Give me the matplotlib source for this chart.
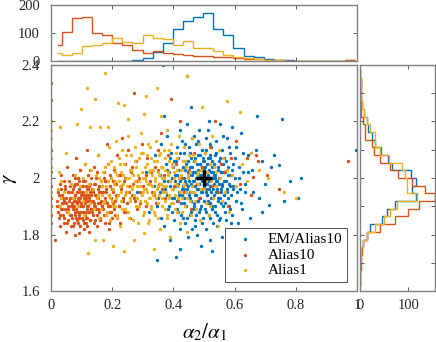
import numpy as np
import matplotlib
matplotlib.use('Agg')
from matplotlib import pyplot as plt

plt.rcParams['font.family'] = 'Liberation Serif'
plt.rcParams['mathtext.fontset'] = 'stix'

# Цвета как в MATLAB
c_em = '#0072BD'
c_a10 = '#D95319'
c_a1 = '#EDB120'
grey = '#808080'

labels = ['EM/Alias10', 'Alias10', 'Alias1']

# Точки (alpha2/alpha1, gamma) (выборка)
em_xy = [
    0.28, 1.95, 0.31, 2.02, 0.32, 1.88,
    0.335, 1.97, 0.34, 2.08, 0.345, 1.71, 0.35, 1.93, 0.355, 2.01, 0.36, 1.86, 0.36, 2.12,
    0.37, 1.99, 0.37, 1.83, 0.375, 2.05, 0.38, 1.94, 0.38, 2.15, 0.385, 1.90, 0.385, 2.02,
    0.39, 1.78, 0.39, 1.97, 0.392, 2.09, 0.395, 1.88, 0.396, 2.00, 0.368, 2.22,
    0.40, 1.96, 0.40, 2.04, 0.402, 1.85, 0.405, 1.99, 0.407, 1.72, 0.41, 2.11, 0.41, 1.92,
    0.412, 2.01, 0.415, 1.88, 0.415, 2.07, 0.418, 1.95, 0.42, 2.17, 0.42, 1.82, 0.422, 1.99,
    0.423, 1.75, 0.425, 2.03, 0.426, 1.91, 0.428, 2.13, 0.43, 1.97, 0.43, 1.86, 0.403, 2.06,
    0.417, 2.00, 0.428, 1.94,
    0.433, 2.00, 0.435, 1.93, 0.436, 2.09, 0.438, 1.84, 0.44, 1.98, 0.44, 2.05, 0.442, 1.90,
    0.444, 2.19, 0.445, 1.96, 0.447, 2.02, 0.448, 1.79, 0.45, 1.94, 0.45, 2.11, 0.452, 1.99,
    0.453, 1.87, 0.455, 2.04, 0.456, 2.25, 0.457, 1.92, 0.458, 2.07, 0.46, 1.97, 0.46, 1.82,
    0.461, 2.01, 0.462, 2.14, 0.463, 1.89, 0.434, 1.96, 0.446, 2.00, 0.454, 1.95, 0.439, 2.03,
    0.465, 1.99, 0.466, 2.06, 0.468, 1.91, 0.47, 2.02, 0.47, 1.85, 0.472, 1.97, 0.473, 2.12,
    0.475, 1.94, 0.476, 2.00, 0.478, 1.80, 0.479, 2.08, 0.48, 1.96, 0.481, 2.03, 0.483, 1.88,
    0.484, 2.17, 0.485, 1.98, 0.486, 1.93, 0.488, 2.05, 0.489, 1.76, 0.49, 2.01, 0.491, 1.90,
    0.492, 2.10, 0.493, 1.95, 0.494, 2.04, 0.495, 1.86, 0.496, 1.99, 0.467, 2.15, 0.477, 1.92,
    0.487, 2.00, 0.497, 2.07, 0.471, 1.83,
    0.50, 1.97, 0.50, 2.03, 0.502, 1.89, 0.503, 2.09, 0.505, 1.95, 0.506, 2.00, 0.507, 1.82,
    0.508, 2.14, 0.51, 1.98, 0.511, 2.05, 0.512, 1.92, 0.514, 2.01, 0.515, 1.87, 0.516, 2.20,
    0.517, 1.96, 0.518, 2.07, 0.52, 1.99, 0.521, 1.78, 0.522, 2.02, 0.523, 1.93, 0.524, 2.11,
    0.525, 1.90, 0.526, 2.04, 0.527, 1.97, 0.528, 1.84, 0.529, 2.00, 0.501, 2.06, 0.509, 1.94,
    0.513, 2.17, 0.519, 1.91, 0.504, 1.99, 0.52, 2.08, 0.527, 1.74, 0.53, 1.96,
    0.532, 2.01, 0.534, 1.94, 0.535, 2.08, 0.537, 1.88, 0.538, 1.99, 0.54, 2.13, 0.542, 1.96,
    0.543, 1.83, 0.545, 2.03, 0.547, 1.92, 0.548, 2.06, 0.55, 1.98, 0.552, 1.86, 0.553, 2.19,
    0.555, 1.95, 0.556, 2.02, 0.558, 1.79, 0.559, 2.10, 0.56, 1.97, 0.561, 1.90, 0.562, 2.05,
    0.536, 2.00, 0.551, 1.93,
    0.565, 1.99, 0.566, 2.07, 0.568, 1.91, 0.57, 2.02, 0.572, 1.85, 0.574, 1.96, 0.575, 2.14,
    0.577, 1.93, 0.579, 2.04, 0.58, 1.81, 0.582, 1.98, 0.584, 2.09, 0.585, 1.89, 0.587, 2.01,
    0.589, 1.94, 0.59, 2.18, 0.592, 1.87, 0.594, 2.05, 0.595, 1.97,
    0.60, 2.00, 0.603, 1.92, 0.606, 2.11, 0.61, 1.84, 0.613, 2.04, 0.617, 1.96, 0.62, 2.16,
    0.624, 1.89, 0.627, 2.02, 0.635, 1.95, 0.642, 2.08, 0.65, 1.86, 0.657, 2.03,
    0.674, 2.22, 0.68, 1.93, 0.69, 2.06, 0.711, 1.905, 0.72, 2.04, 0.744, 2.046, 0.78, 1.99,
    0.806, 1.93, 0.816, 2.00, 0.756, 2.21, 0.997, 2.10, 0.367, 2.40,
    # плотное ядро
    0.401, 1.93, 0.404, 2.01, 0.406, 1.97, 0.409, 2.06, 0.411, 1.89, 0.414, 1.98, 0.416, 2.03,
    0.419, 1.94, 0.421, 2.09, 0.424, 1.87, 0.427, 2.00, 0.429, 1.96,
    0.432, 2.04, 0.434, 1.91, 0.437, 1.99, 0.439, 2.12, 0.441, 1.95, 0.443, 1.86, 0.446, 2.06,
    0.448, 1.97, 0.451, 2.01, 0.453, 1.93, 0.455, 2.09, 0.457, 1.98, 0.459, 1.88, 0.461, 2.04,
    0.463, 1.95, 0.464, 2.02, 0.466, 1.90, 0.468, 1.99, 0.469, 2.07, 0.471, 1.94, 0.473, 2.00,
    0.474, 1.87, 0.476, 2.05, 0.478, 1.96, 0.479, 2.13, 0.481, 1.92, 0.482, 2.01, 0.484, 1.98,
    0.486, 2.08, 0.487, 1.89, 0.489, 1.95, 0.490, 2.03, 0.492, 1.99, 0.494, 1.84, 0.495, 2.06,
    0.497, 1.96, 0.498, 2.01, 0.500, 1.92, 0.502, 2.04, 0.503, 1.98, 0.505, 2.10, 0.506, 1.88,
    0.508, 1.96, 0.509, 2.02, 0.511, 1.94, 0.512, 2.07, 0.514, 1.99, 0.515, 1.91, 0.517, 2.03,
    0.518, 1.86, 0.520, 1.97, 0.521, 2.12, 0.523, 2.00, 0.524, 1.95, 0.526, 2.06, 0.527, 1.89,
    0.529, 2.02, 0.530, 1.93, 0.531, 1.98, 0.533, 2.05, 0.535, 1.90, 0.536, 2.01, 0.538, 1.95,
    0.540, 2.09, 0.541, 1.87, 0.543, 1.99, 0.545, 2.04, 0.547, 1.93, 0.548, 2.00, 0.550, 1.85,
    0.552, 2.07, 0.554, 1.96, 0.556, 2.02, 0.557, 1.91, 0.559, 1.98, 0.561, 2.15,
    0.564, 1.94, 0.566, 2.02, 0.568, 1.88, 0.571, 1.99, 0.573, 2.06, 0.576, 1.95, 0.578, 2.01,
    0.581, 1.90, 0.583, 2.11, 0.586, 1.97, 0.588, 1.84, 0.591, 2.03, 0.593, 1.96,
    0.372, 1.96, 0.378, 2.03, 0.383, 1.89, 0.388, 2.07, 0.394, 1.93, 0.381, 1.99, 0.356, 1.95,
    0.362, 2.04, 0.347, 1.90, 0.602, 2.07, 0.608, 1.95, 0.614, 2.00, 0.621, 1.91, 0.628, 2.09,
    0.633, 1.98, 0.645, 2.02, 0.66, 1.95, 0.67, 2.10, 0.70, 1.98, 0.73, 2.08, 0.76, 1.92,
    0.69, 1.88,
]

a10_xy = [
    0.0, 2.335, 0.0, 2.277, 0.0, 2.10, 0.0, 2.02, 0.0, 1.97, 0.0, 1.93, 0.0, 1.90, 0.0, 1.87, 0.0, 1.84,
    0.013, 1.78, 0.020, 1.92, 0.022, 1.88, 0.024, 1.95, 0.025, 1.86, 0.027, 1.90, 0.028, 1.98,
    0.030, 1.83, 0.031, 1.93, 0.033, 1.89, 0.034, 2.01, 0.035, 1.91,
    0.037, 1.94, 0.038, 1.87, 0.040, 1.91, 0.041, 1.99, 0.043, 1.84, 0.044, 1.92, 0.046, 1.89,
    0.047, 1.96, 0.049, 1.81, 0.050, 1.93, 0.052, 1.88, 0.053, 2.04, 0.055, 1.90, 0.056, 1.85,
    0.058, 1.95, 0.059, 1.92, 0.061, 1.87, 0.062, 1.97, 0.064, 1.90, 0.066, 1.83, 0.067, 1.93,
    0.069, 1.91, 0.070, 1.86, 0.071, 1.96, 0.072, 1.89, 0.073, 2.01, 0.074, 1.93, 0.075, 1.84,
    0.076, 1.90, 0.077, 1.98, 0.078, 1.87, 0.079, 1.94, 0.080, 1.80, 0.081, 1.92, 0.082, 2.07,
    0.083, 1.89, 0.084, 1.95, 0.085, 1.85, 0.086, 1.91, 0.087, 2.00, 0.088, 1.88, 0.089, 1.93,
    0.090, 1.804, 0.091, 1.96, 0.092, 1.86, 0.093, 1.92, 0.094, 2.03, 0.095, 1.90, 0.096, 1.83,
    0.097, 1.94, 0.099, 1.88, 0.100, 1.97,
    0.102, 1.90, 0.103, 1.85, 0.104, 1.95, 0.105, 1.88, 0.106, 1.99, 0.107, 1.92, 0.108, 1.82,
    0.109, 1.93, 0.110, 2.05, 0.111, 1.87, 0.112, 1.91, 0.113, 1.97, 0.114, 1.84, 0.115, 1.94,
    0.116, 1.89, 0.117, 2.10, 0.118, 1.92, 0.119, 1.86, 0.120, 1.96, 0.121, 1.90, 0.122, 2.01,
    0.123, 1.81, 0.124, 1.93, 0.125, 1.88, 0.126, 1.98, 0.127, 1.91, 0.128, 1.85, 0.129, 2.03,
    0.131, 1.94, 0.132, 1.89, 0.133, 1.96,
    0.136, 1.92, 0.137, 1.87, 0.139, 1.98, 0.140, 1.90, 0.142, 2.04, 0.143, 1.85, 0.145, 1.94,
    0.146, 1.89, 0.148, 2.00, 0.149, 1.93, 0.151, 1.83, 0.152, 1.96, 0.154, 1.91, 0.155, 2.08,
    0.157, 1.88, 0.158, 1.95, 0.160, 1.86, 0.162, 1.99, 0.164, 1.92, 0.166, 1.97,
    0.168, 1.90, 0.170, 1.95, 0.172, 2.02, 0.173, 1.87, 0.175, 1.93, 0.177, 1.99, 0.178, 1.84,
    0.180, 1.96, 0.182, 2.12, 0.183, 1.91, 0.185, 1.88, 0.187, 2.05, 0.189, 1.94, 0.190, 1.82,
    0.192, 1.97, 0.194, 1.90, 0.196, 2.00, 0.197, 1.93, 0.199, 1.86,
    0.202, 1.95, 0.205, 1.89, 0.207, 2.03, 0.210, 1.92, 0.212, 1.98, 0.215, 1.86, 0.217, 2.08,
    0.220, 1.94, 0.222, 1.90, 0.225, 2.01, 0.227, 1.84, 0.229, 1.96, 0.232, 2.14,
    0.235, 1.93, 0.238, 1.99, 0.240, 1.88, 0.243, 2.05, 0.246, 1.95, 0.249, 1.91, 0.252, 2.10,
    0.255, 1.97, 0.258, 1.86, 0.261, 2.02, 0.264, 1.94,
    0.268, 1.98, 0.271, 2.30, 0.274, 1.92, 0.278, 2.06, 0.282, 1.89, 0.286, 2.00, 0.291, 1.95,
    0.296, 2.12, 0.302, 1.97, 0.309, 1.90, 0.315, 2.07, 0.322, 1.99, 0.328, 2.02,
    0.335, 1.94, 0.339, 2.04, 0.344, 1.91, 0.349, 2.10, 0.353, 1.98, 0.358, 2.16, 0.362, 1.96,
    0.368, 2.01, 0.374, 1.93, 0.381, 2.08, 0.388, 1.99, 0.393, 2.28,
    0.401, 1.97, 0.408, 2.05, 0.415, 1.92, 0.423, 2.20, 0.428, 2.00,
    0.436, 1.95, 0.443, 2.36, 0.450, 2.03, 0.458, 1.89, 0.468, 2.09, 0.476, 1.98, 0.485, 1.93,
    0.492, 2.04, 0.502, 2.00, 0.511, 1.91, 0.519, 2.11, 0.526, 1.97, 0.536, 2.20, 0.547, 1.95,
    0.556, 2.05, 0.568, 2.02, 0.578, 1.90, 0.589, 2.07, 0.603, 2.13, 0.618, 1.98, 0.640, 2.07,
    0.655, 1.94, 0.661, 2.005, 0.669, 2.08, 0.675, 2.06, 0.705, 2.01, 0.745, 1.96, 0.970, 2.06,
    # плотное ядро
    0.021, 1.90, 0.026, 1.94, 0.029, 1.87, 0.032, 1.96, 0.036, 1.89, 0.039, 1.93, 0.042, 1.86,
    0.045, 1.97, 0.048, 1.91, 0.051, 1.84, 0.054, 1.95, 0.057, 1.89, 0.060, 1.99, 0.063, 1.93,
    0.065, 1.87, 0.068, 1.95, 0.070, 1.90, 0.072, 1.83, 0.074, 1.97, 0.075, 1.92, 0.077, 1.88,
    0.079, 2.00, 0.080, 1.94, 0.082, 1.86, 0.084, 1.91, 0.085, 1.98, 0.087, 1.84, 0.088, 1.95,
    0.090, 1.90, 0.091, 1.87, 0.093, 1.99, 0.095, 1.93, 0.096, 1.88, 0.098, 1.95, 0.099, 1.91,
    0.101, 1.86, 0.103, 1.94, 0.104, 1.90, 0.106, 1.97, 0.107, 1.84, 0.109, 1.92, 0.110, 1.88,
    0.112, 1.99, 0.113, 1.93, 0.115, 1.86, 0.116, 1.96, 0.118, 1.90, 0.119, 1.83, 0.121, 1.94,
    0.122, 1.88, 0.124, 1.97, 0.125, 1.92, 0.127, 1.85, 0.128, 1.95, 0.130, 1.89, 0.131, 2.00,
    0.133, 1.92, 0.135, 1.88, 0.137, 1.95, 0.139, 1.91, 0.141, 1.84, 0.143, 1.98, 0.145, 1.90,
    0.147, 1.94, 0.149, 1.87, 0.151, 2.02, 0.153, 1.93, 0.155, 1.89, 0.157, 1.97, 0.159, 1.91,
    0.161, 1.85, 0.163, 1.95, 0.165, 1.90, 0.168, 1.97, 0.171, 1.89, 0.174, 2.00, 0.176, 1.92,
    0.179, 1.87, 0.181, 1.95, 0.184, 1.99, 0.186, 1.90, 0.188, 1.84, 0.191, 1.94, 0.193, 2.01,
    0.195, 1.88, 0.198, 1.96, 0.201, 1.91, 0.204, 1.99, 0.209, 1.87, 0.213, 1.94, 0.218, 2.01,
    0.223, 1.90, 0.228, 1.97, 0.236, 1.92, 0.242, 2.00, 0.248, 1.88, 0.256, 1.95, 0.263, 2.04,
    0.27, 1.93, 0.28, 1.99, 0.29, 1.91, 0.31, 2.01, 0.33, 1.95, 0.35, 2.03,
]

a1_xy = [
    0.0, 2.20, 0.0, 2.17, 0.0, 2.14, 0.0, 2.07, 0.0, 2.04, 0.0, 1.95,
    0.022, 1.96, 0.025, 2.02, 0.028, 1.90, 0.030, 2.18, 0.032, 1.93, 0.034, 1.99,
    0.042, 1.95, 0.050, 2.09, 0.057, 1.88, 0.064, 1.98,
    0.072, 1.93, 0.078, 2.01, 0.084, 2.19, 0.089, 1.90, 0.094, 1.97, 0.098, 2.245,
    0.103, 1.92, 0.106, 2.00, 0.109, 1.87, 0.112, 2.05, 0.115, 1.95, 0.118, 2.32, 0.121, 1.736,
    0.124, 1.98, 0.126, 2.18, 0.129, 1.91, 0.132, 2.03,
    0.137, 1.96, 0.140, 1.89, 0.143, 2.28, 0.144, 1.78, 0.147, 2.01, 0.150, 1.93, 0.153, 2.08,
    0.156, 1.86, 0.159, 2.18, 0.162, 1.99, 0.165, 1.94,
    0.169, 1.78, 0.171, 2.02, 0.174, 1.91, 0.177, 2.37, 0.179, 1.97, 0.182, 1.88, 0.185, 2.05,
    0.186, 2.18, 0.189, 1.94, 0.191, 2.11, 0.194, 1.85, 0.196, 2.00, 0.198, 1.92,
    0.202, 1.96, 0.204, 1.76, 0.206, 2.04, 0.208, 1.90, 0.210, 1.99, 0.212, 2.13, 0.214, 1.87,
    0.216, 2.01, 0.218, 1.94, 0.220, 2.265, 0.222, 2.07, 0.224, 1.83, 0.226, 1.97, 0.228, 2.02,
    0.230, 1.92, 0.232, 2.10,
    0.235, 1.98, 0.237, 1.742, 0.239, 2.05, 0.240, 2.26, 0.242, 1.89, 0.245, 2.00, 0.247, 1.95,
    0.250, 2.15, 0.253, 2.21, 0.255, 1.86, 0.257, 2.03, 0.259, 1.93, 0.262, 2.08, 0.264, 1.97,
    0.268, 2.01, 0.270, 1.78, 0.272, 1.94, 0.275, 2.11, 0.277, 1.90, 0.279, 2.04, 0.282, 1.97,
    0.284, 1.84, 0.287, 2.07, 0.289, 1.99, 0.292, 1.92, 0.294, 2.16, 0.297, 2.02,
    0.300, 1.95, 0.302, 2.09, 0.303, 2.225, 0.303, 1.804, 0.305, 1.88, 0.307, 2.00, 0.309, 2.29,
    0.310, 1.96, 0.312, 2.05, 0.314, 1.91, 0.316, 2.12, 0.318, 1.98, 0.320, 1.85, 0.322, 2.03,
    0.324, 1.93, 0.326, 2.07, 0.328, 1.89, 0.330, 2.01, 0.331, 1.97,
    0.334, 1.94, 0.335, 1.748, 0.337, 2.06, 0.339, 1.99, 0.341, 1.87, 0.343, 2.13, 0.345, 1.96,
    0.347, 2.32, 0.349, 2.02, 0.351, 1.91, 0.353, 2.08, 0.355, 1.98, 0.357, 1.82, 0.359, 2.04,
    0.360, 2.22, 0.362, 1.93, 0.364, 2.00,
    0.367, 1.97, 0.369, 2.10, 0.371, 1.89, 0.373, 2.03, 0.375, 1.95, 0.378, 2.17, 0.380, 1.86,
    0.382, 2.01, 0.384, 1.93, 0.386, 2.06, 0.388, 1.99, 0.390, 1.79, 0.392, 2.12, 0.394, 1.96,
    0.396, 2.04, 0.397, 1.91,
    0.401, 2.00, 0.404, 1.94, 0.407, 2.09, 0.410, 1.88, 0.413, 2.03, 0.416, 1.97, 0.419, 2.15,
    0.422, 1.84, 0.425, 2.01, 0.427, 1.93, 0.430, 2.06,
    0.433, 1.98, 0.435, 2.11, 0.437, 1.90, 0.440, 2.04, 0.442, 1.95, 0.443, 2.36, 0.445, 1.81,
    0.448, 2.00, 0.450, 2.08, 0.453, 1.92, 0.455, 2.02, 0.458, 1.87, 0.460, 1.97, 0.462, 2.14,
    0.467, 1.95, 0.470, 2.06, 0.474, 1.89, 0.477, 2.01, 0.481, 1.98, 0.484, 2.12, 0.488, 1.85,
    0.491, 2.03, 0.494, 2.25,
    0.500, 1.96, 0.504, 2.09, 0.508, 1.91, 0.511, 2.02, 0.515, 1.87, 0.518, 2.05, 0.522, 1.99,
    0.525, 2.15, 0.528, 1.93, 0.534, 2.04, 0.539, 1.97, 0.544, 1.83, 0.549, 2.10, 0.553, 2.00,
    0.558, 1.92, 0.561, 2.07, 0.567, 1.95, 0.574, 2.03, 0.576, 2.273, 0.583, 1.88, 0.590, 2.01,
    0.605, 1.97, 0.617, 2.235, 0.624, 2.05, 0.640, 1.99, 0.655, 2.09, 0.680, 2.03, 0.710, 2.00,
    0.760, 1.95, 0.800, 1.93,
    # плотное ядро
    0.152, 1.94, 0.158, 2.00, 0.163, 1.89, 0.167, 1.97, 0.172, 1.92, 0.176, 2.04, 0.181, 1.87,
    0.187, 1.99, 0.192, 1.93, 0.197, 2.06, 0.201, 1.90, 0.205, 1.98, 0.209, 2.02, 0.213, 1.93,
    0.217, 1.86, 0.221, 1.99, 0.225, 2.05, 0.229, 1.95, 0.233, 1.89, 0.236, 2.01, 0.241, 1.94,
    0.244, 2.08, 0.248, 1.97, 0.251, 1.88, 0.254, 2.00, 0.258, 1.92, 0.261, 2.03, 0.265, 1.96,
    0.269, 1.85, 0.273, 1.99, 0.276, 2.06, 0.280, 1.93, 0.283, 2.01, 0.286, 1.90, 0.290, 1.97,
    0.293, 2.09, 0.296, 1.94, 0.299, 2.00, 0.301, 1.87, 0.304, 1.96, 0.306, 2.04, 0.308, 1.92,
    0.311, 1.99, 0.313, 2.08, 0.315, 1.95, 0.317, 1.84, 0.319, 2.02, 0.321, 1.93, 0.323, 1.98,
    0.325, 2.11, 0.327, 1.90, 0.329, 1.97, 0.332, 2.03, 0.336, 1.95, 0.338, 1.88, 0.340, 2.00,
    0.342, 1.93, 0.346, 2.06, 0.348, 1.97, 0.350, 1.86, 0.352, 2.01, 0.354, 1.94, 0.356, 2.09,
    0.358, 1.98, 0.361, 1.90, 0.363, 2.04, 0.366, 1.95, 0.370, 2.00, 0.372, 1.92, 0.374, 2.07,
    0.377, 1.97, 0.379, 1.87, 0.383, 2.02, 0.385, 1.94, 0.387, 2.10, 0.389, 1.99, 0.393, 1.91,
    0.395, 2.05, 0.399, 1.96, 0.403, 2.02, 0.406, 1.89, 0.409, 1.98, 0.412, 2.07, 0.415, 1.93,
    0.418, 2.00, 0.421, 1.95, 0.426, 2.03, 0.429, 1.88, 0.434, 1.97, 0.438, 2.06, 0.444, 1.93,
    0.449, 2.01, 0.456, 1.95, 0.463, 2.08, 0.472, 1.92, 0.48, 2.02, 0.49, 1.96, 0.505, 1.99,
    0.52, 1.90, 0.54, 2.02,
]

# Центр (крестик)
center = (0.5, 2.0)

# Гистограмма сверху (по alpha2/alpha1)
top_edges = np.concatenate(([0.019], 0.035 + 0.033 * np.arange(30)))
em_top = [0, 0, 0, 0, 0, 0, 0, 1, 5, 12, 33, 63, 113, 141, 157, 171, 114, 93, 45, 18,
          14, 8, 5, 2, 1, 0, 0, 0, 0, 5]
a10_top = [57, 105, 153, 157, 101, 93, 63, 57, 39, 27, 36, 27, 24, 20, 18, 18, 15, 15, 10, 8,
           8, 4, 2, 1, 0, 0, 0, 0, 0, 2]
a1_top = [29, 20, 30, 54, 57, 63, 81, 69, 65, 93, 83, 78, 57, 71, 47, 47, 36, 23, 14, 10,
          6, 4, 2, 0, 0, 0, 0, 0, 0, 0]

# Гистограмма справа (по gamma)
right_edges = 1.619 + 0.0272 * np.arange(29)
em_right = [1, 1, 1, 2, 3, 7, 14, 21, 45, 55, 72, 115, 107, 115, 105, 66, 57, 43, 31, 24,
            17, 14, 8, 5, 3, 2, 2, 1]
a10_right = [0, 0, 2, 3, 4, 7, 14, 41, 72, 100, 121, 155, 134, 107, 79, 62, 41, 28, 24, 10,
             10, 7, 3, 3, 2, 2, 3, 1]
a1_right = [0, 1, 1, 2, 3, 7, 14, 31, 50, 62, 76, 117, 97, 97, 93, 86, 59, 41, 31, 31,
            21, 14, 8, 5, 3, 2, 3, 1]

fig = plt.figure(figsize=(4.36, 3.42), dpi=100)
ax = fig.add_axes([0.117, 0.149, 0.702, 0.661])
axt = fig.add_axes([0.117, 0.8216, 0.702, 0.164])
axr = fig.add_axes([0.8257, 0.149, 0.172, 0.661])

pts = [np.array(em_xy).reshape(-1, 2), np.array(a10_xy).reshape(-1, 2),
       np.array(a1_xy).reshape(-1, 2)]
colors = [c_em, c_a10, c_a1]
for p, c, lab in zip(pts, colors, labels):
    ax.scatter(p[:, 0], p[:, 1], s=6, color=c, linewidths=0, label=lab)
ax.plot(center[0], center[1], '+', color='k', ms=12, mew=2.5)

ax.set_xlim(0, 1)
ax.set_ylim(1.6, 2.4)
ax.set_xticks(np.arange(0, 1.01, 0.2))
ax.set_xticklabels(['0', '0.2', '0.4', '0.6', '0.8', '1'])
ax.set_yticks([1.6, 1.8, 2.0, 2.2, 2.4])
ax.set_yticklabels(['1.6', '1.8', '2', '2.2', '2.4'])
ax.set_xlabel(r'$\alpha_2/\alpha_1$', fontsize=15)
ax.set_ylabel(r'$\gamma$', fontsize=15)
ax.xaxis.set_label_coords(0.5, -0.135)
ax.yaxis.set_label_coords(-0.105, 0.5)

leg = ax.legend(loc='lower right', bbox_to_anchor=(0.967, 0.04), borderaxespad=0,
                fancybox=False, edgecolor='#333333', framealpha=1, fontsize=11,
                handlelength=2.0, handletextpad=0.5, labelspacing=0.12,
                borderpad=0.3, scatterpoints=1)
leg.get_frame().set_linewidth(0.6)

# гистограммы
for cnt, c in zip([em_top, a10_top, a1_top], colors):
    axt.stairs(cnt, top_edges, baseline=None, color=c, lw=1.0)
axt.set_xlim(0, 1)
axt.set_ylim(0, 200)
axt.set_xticks(np.arange(0, 1.01, 0.2))
axt.set_xticklabels([])
axt.set_yticks([0, 100, 200])

for cnt, c in zip([em_right, a10_right, a1_right], colors):
    axr.stairs(cnt, right_edges, baseline=None, orientation='horizontal', color=c, lw=1.0)
axr.set_ylim(1.6, 2.4)
axr.set_xlim(0, 155)
axr.set_yticks(np.arange(1.6, 2.41, 0.1))
axr.set_yticklabels([])
axr.set_xticks([0, 100])

for a in (ax, axt, axr):
    a.tick_params(direction='in', top=True, right=True, length=3, width=0.6,
                  color='#444444', labelsize=10.5, labelcolor='#262626')
    a.tick_params(axis='x', pad=6)
    a.tick_params(axis='y', pad=8)
    for s in a.spines.values():
        s.set_color(grey)
        s.set_linewidth(1.0)

fig.savefig('out.png', dpi=100)
